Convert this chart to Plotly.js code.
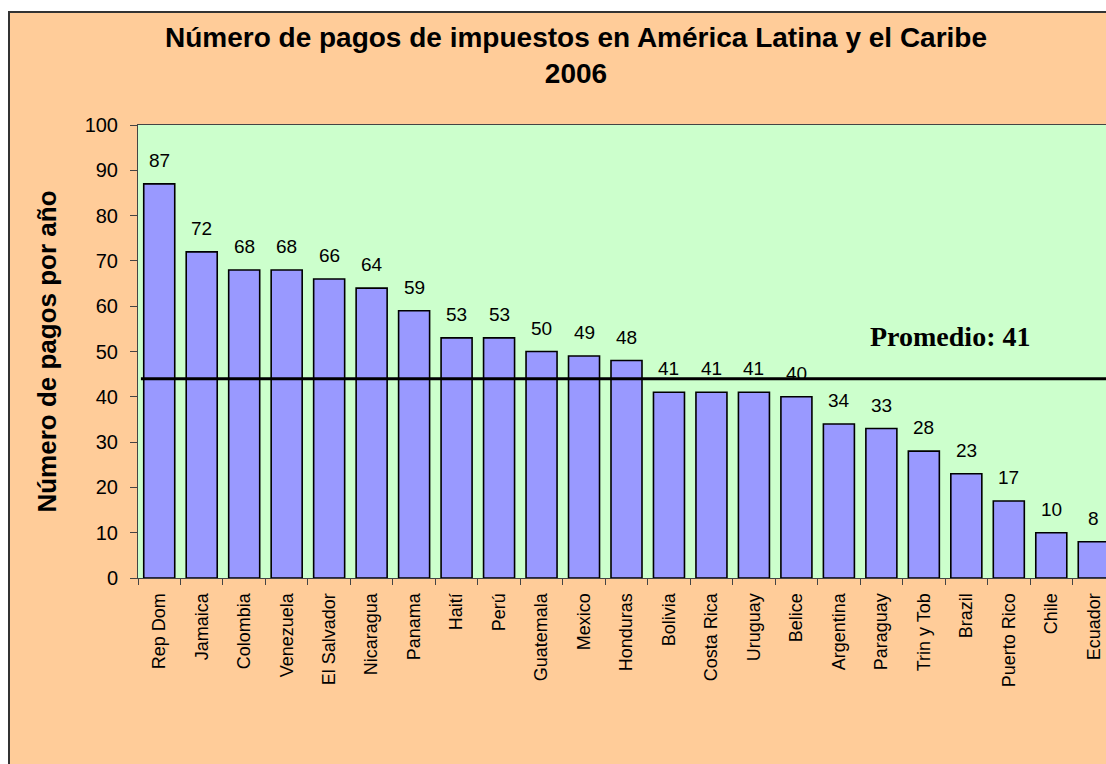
<!DOCTYPE html>
<html>
<head>
<meta charset="utf-8">
<script src="https://cdn.plot.ly/plotly-3.0.1.min.js"></script>
<style>
  html, body { margin: 0; padding: 0; background: #ffffff; overflow: hidden; width: 1106px; height: 764px; }
  #frame { position: absolute; left: 8px; top: 11px; border: 2px solid #333333; width: 1132px; height: 751px; background: #FFCC99; }
  #chart { width: 1132px; height: 751px; }
</style>
</head>
<body>
<div id="frame"><div id="chart"></div></div>
<script>
// ---- data ----
const countries = ['Rep Dom', 'Jamaica', 'Colombia', 'Venezuela', 'El Salvador', 'Nicaragua', 'Panama', 'Haití', 'Perú', 'Guatemala', 'Mexico', 'Honduras', 'Bolivia', 'Costa Rica', 'Uruguay', 'Belice', 'Argentina', 'Paraguay', 'Trin y Tob', 'Brazil', 'Puerto Rico', 'Chile', 'Ecuador'];
const payments = [87, 72, 68, 68, 66, 64, 59, 53, 53, 50, 49, 48, 41, 41, 41, 40, 34, 33, 28, 23, 17, 10, 8];
const averageLineValue = 44;
const averageLabel = 'Promedio: 41';
const titleText = 'Número de pagos de impuestos en América Latina y el Caribe<br>2006';
const yTitleText = 'Número de pagos por año';
const yTickValues = [0, 10, 20, 30, 40, 50, 60, 70, 80, 90, 100];

const arial = 'Arial, "Liberation Sans", sans-serif';
const times = '"Times New Roman", "Liberation Serif", serif';

const barTrace = {
  type: 'bar',
  x: countries,
  y: payments,
  marker: { color: '#9999FF', line: { color: '#000000', width: 1.6 } },
  hoverinfo: 'x+y'
};

const valueLabels = countries.map((c, i) => ({
  x: c, y: payments[i], xref: 'x', yref: 'y',
  text: String(payments[i]), showarrow: false,
  yanchor: 'bottom', yshift: 11,
  font: { family: arial, size: 19, color: '#000000' }
}));

const layout = {
  width: 1132, height: 751,
  paper_bgcolor: '#FFCC99',
  plot_bgcolor: '#CCFFCC',
  margin: { l: 127.7, r: 26.8, t: 112, b: 186.3, pad: 0 },
  showlegend: false,
  bargap: 0.27,
  title: {
    text: titleText,
    font: { family: arial, size: 28, color: '#000000', weight: 'bold' },
    x: 0.5, xanchor: 'center', xref: 'container',
    y: 0.955, yanchor: 'top', yref: 'container'
  },
  xaxis: {
    type: 'category',
    tickangle: -90,
    ticks: 'outside', tickson: 'boundaries', ticklen: 6, tickcolor: '#444444',
    ticklabelstandoff: 7,
    showline: true, linecolor: '#444444', linewidth: 1, mirror: true,
    showgrid: false, zeroline: false,
    tickfont: { family: arial, size: 18, color: '#000000' },
    fixedrange: true
  },
  yaxis: {
    range: [0, 100],
    tickvals: yTickValues,
    ticks: 'outside', ticklen: 7, tickcolor: '#444444',
    ticklabelstandoff: 8,
    showline: true, linecolor: '#444444', linewidth: 1, mirror: true,
    showgrid: false, zeroline: false,
    tickfont: { family: arial, size: 20, color: '#000000' },
    title: { text: yTitleText, font: { family: arial, size: 26, color: '#000000', weight: 'bold' }, standoff: 20 },
    fixedrange: true
  },
  shapes: [{
    type: 'line', xref: 'paper', yref: 'y',
    x0: 0.003, x1: 1, y0: averageLineValue, y1: averageLineValue,
    line: { color: '#000000', width: 3 }
  }],
  annotations: valueLabels.concat([{
    xref: 'paper', yref: 'y', x: 0.831, y: 53.3,
    text: '<b>' + averageLabel + '</b>', showarrow: false,
    xanchor: 'center', yanchor: 'middle',
    font: { family: times, size: 28, color: '#000000' }
  }])
};

Plotly.newPlot('chart', [barTrace], layout, { displayModeBar: false, staticPlot: false });
</script>
</body>
</html>
